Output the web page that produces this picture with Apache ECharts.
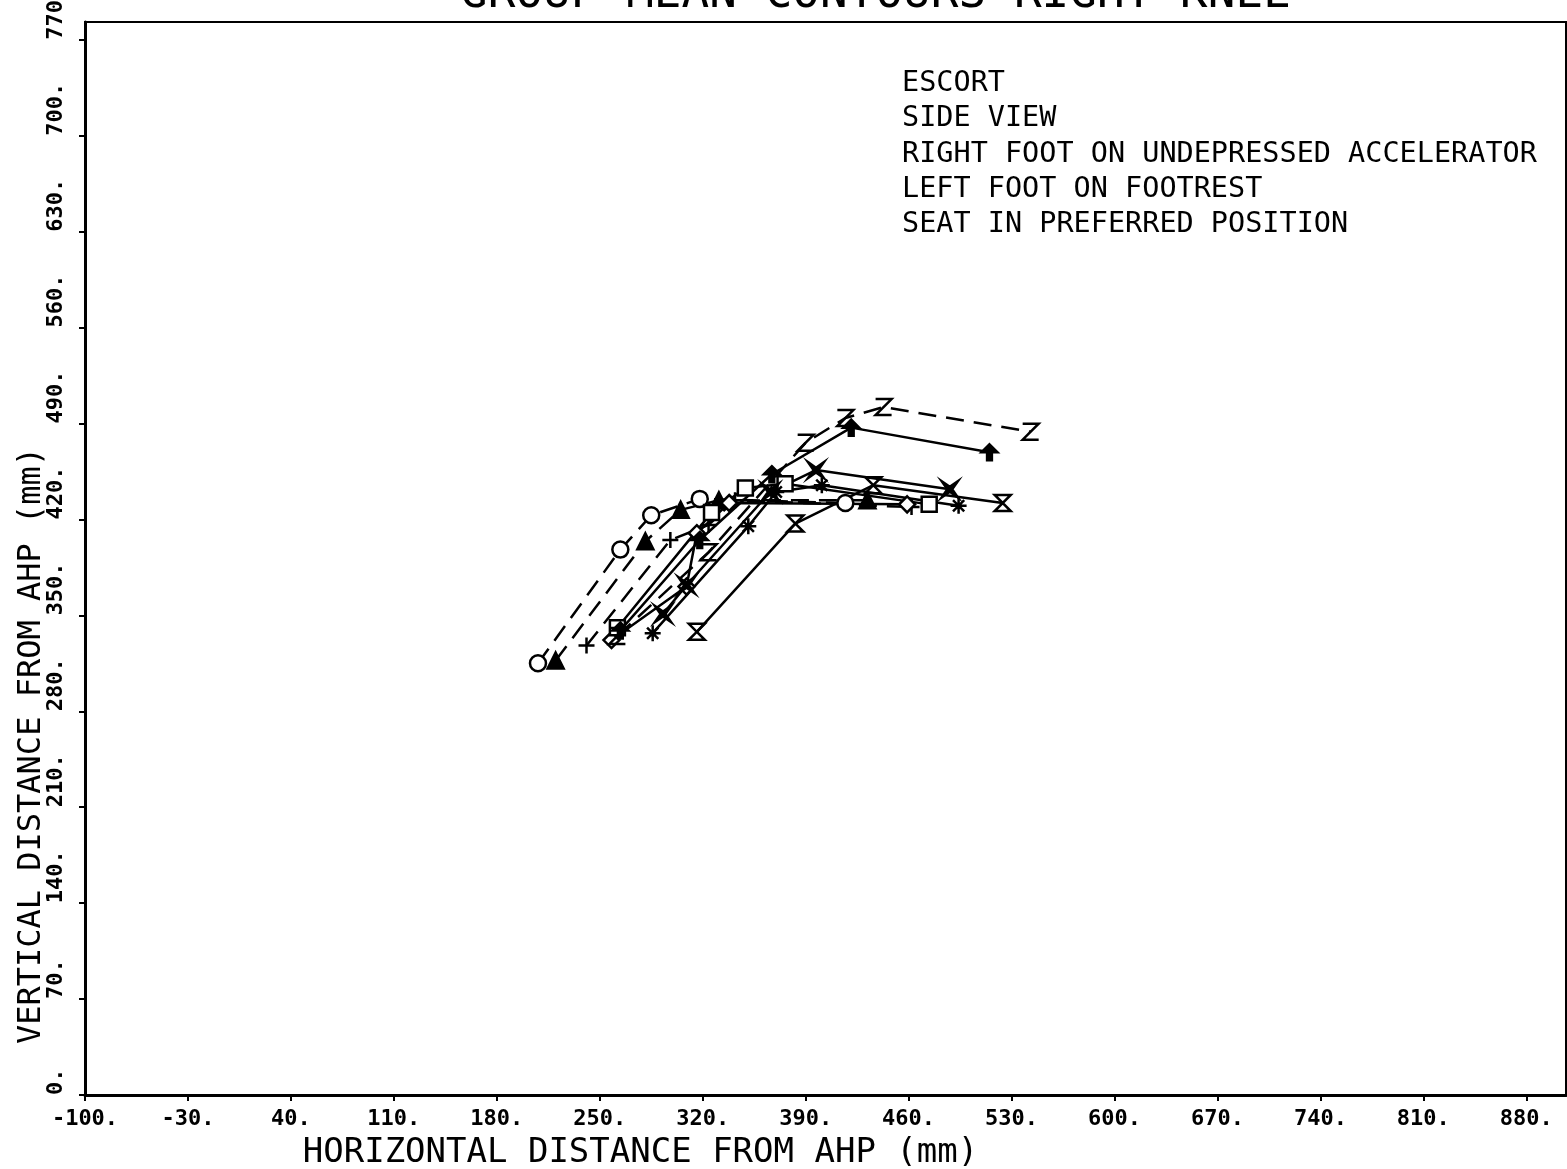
<!DOCTYPE html>
<html><head><meta charset="utf-8">
<script src="https://cdn.jsdelivr.net/npm/echarts@6/dist/echarts.min.js"></script>
<style>html,body{margin:0;padding:0;background:#fff}#c{width:1567px;height:1169px}</style>
</head><body><div id="c"></div>
<script>
// Tick labels
const xTicks = [-100,-30,40,110,180,250,320,390,460,530,600,670,740,810,880];
const yTicks = [0,70,140,210,280,350,420,490,560,630,700,770];
// Series values [horizontal mm, vertical mm]
const circleS   = [[208,315],[264,398],[285,423],[318,435],[417,432]];
const triangleS = [[220,317],[281,404],[305,427],[331,434],[432,434]];
const plusS     = [[241,328],[298,405],[324,416],[342,434],[462,429]];
const diamondS  = [[258,332],[309,371],[316,410],[338,432],[459,431]];
const squareS   = [[262,341],[326,425],[349,443],[376,446],[474,431]];
const asteriskS = [[286,337],[351,415],[370,440],[401,445],[494,430]];
const starS     = [[293,351],[309,372],[366,440],[397,456],[488,442]];
const hourS     = [[316,338],[383,417],[436,445],[524,432]];
const zS        = [[262,335],[324,396],[390,476],[417,494],[443,502],[543,484]];
const arrowS    = [[264,339],[318,405],[367,453],[421,487],[515,469]];

const annotation = ['ESCORT','SIDE VIEW','RIGHT FOOT ON UNDEPRESSED ACCELERATOR','LEFT FOOT ON FOOTREST','SEAT IN PREFERRED POSITION'];

const FONT = '"DejaVu Sans Mono", "Liberation Mono", monospace';
const NOFILL = 'rgba(0,0,0,0)';

function mk(name, data, symbol, fill, dashed, size) {
  return {
    name, type: 'line', data, symbol, symbolSize: size || 16,
    showSymbol: true, animation: false, silent: true,
    lineStyle: { color: '#000', width: 2.5, type: dashed ? [18, 10] : 'solid' },
    itemStyle: { color: fill, borderColor: '#000', borderWidth: 2.5 },
    emphasis: { disabled: true }
  };
}

const series = [
  mk('circle', circleS, 'circle', '#fff', true),
  mk('triangle', triangleS, 'triangle', '#000', true),
  mk('plus', plusS, 'path://M5 0 L5 10 M0 5 L10 5', NOFILL, true),
  mk('diamond', diamondS, 'diamond', '#fff', false),
  mk('square', squareS, 'rect', '#fff', false, 15),
  mk('asterisk', asteriskS, 'path://M5 0 L5 10 M0 5 L10 5 M1.5 1.5 L8.5 8.5 M8.5 1.5 L1.5 8.5', NOFILL, false),
  mk('star', starS, 'path://M0 0 L5 3.5 L10 0 L6.5 5 L10 10 L5 6.5 L0 10 L3.5 5 Z', '#000', false),
  mk('hourglass', hourS, 'path://M0 0 L10 0 L0 10 L10 10 Z', NOFILL, false),
  mk('z', zS, 'path://M0 0 L10 0 L0 10 L10 10', NOFILL, true),
  mk('arrow', arrowS, 'path://M5 0 L10 5 L6.5 5 L6.5 10 L3.5 10 L3.5 5 L0 5 Z', '#000', false)
];

const chart = echarts.init(document.getElementById('c'), null, { renderer: 'canvas' });
chart.setOption({
  backgroundColor: '#fff',
  animation: false,
  title: {
    text: 'GROUP MEAN CONTOURS RIGHT KNEE',
    left: 455, top: -33,
    textStyle: { fontFamily: FONT, fontSize: 46, fontWeight: 'normal', color: '#000' }
  },
  grid: { left: 85, top: 22, right: 1, bottom: 74, containLabel: false, outerBoundsMode: 'none', show: true, borderColor: '#000', borderWidth: 2, backgroundColor: 'transparent' },
  xAxis: {
    type: 'value', min: -100, max: 907,
    name: 'HORIZONTAL DISTANCE FROM AHP (mm)',
    nameLocation: 'middle', nameGap: 41, nameMoveOverlap: false,
    nameTextStyle: { fontFamily: FONT, fontSize: 34, color: '#000', padding: [0, 370, 0, 0] },
    axisLine: { show: true, onZero: false, lineStyle: { color: '#000', width: 3 } },
    axisTick: { show: true, customValues: xTicks, length: 6, lineStyle: { color: '#000', width: 2 } },
    axisLabel: { customValues: xTicks, formatter: v => v + '.', fontFamily: FONT, fontSize: 22, fontWeight: 'bold', color: '#000', margin: 13 },
    splitLine: { show: false }
  },
  yAxis: {
    type: 'value', min: 0, max: 783,
    name: 'VERTICAL DISTANCE FROM AHP (mm)',
    nameLocation: 'middle', nameGap: 37, nameRotate: 90, nameMoveOverlap: false,
    nameTextStyle: { fontFamily: FONT, fontSize: 32, color: '#000', padding: [0, 374, 0, 0] },
    axisLine: { show: true, onZero: false, lineStyle: { color: '#000', width: 3 } },
    axisTick: { show: true, customValues: yTicks, length: 6, lineStyle: { color: '#000', width: 2 } },
    axisLabel: { customValues: yTicks, formatter: v => v + '.', rotate: 90, align: 'left', fontFamily: FONT, fontSize: 22, fontWeight: 'bold', color: '#000', margin: 18 },
    splitLine: { show: false }
  },
  graphic: [{
    type: 'text', left: 902, top: 66, silent: true,
    style: { text: annotation.join('\n'), font: '28.5px ' + FONT, fill: '#000', lineHeight: 35.3 }
  }],
  series
});
</script>
</body></html>
